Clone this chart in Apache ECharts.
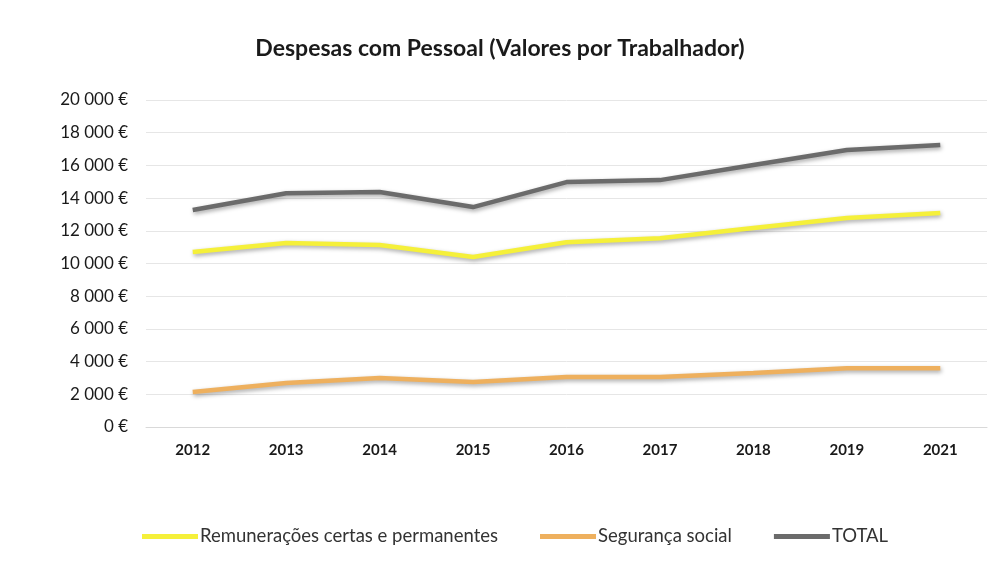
<!DOCTYPE html>
<html>
<head>
<meta charset="utf-8">
<script src="https://cdn.jsdelivr.net/npm/echarts@6/dist/echarts.min.js"></script>
<style>
    html, body { margin: 0; padding: 0; background: #fff; }
    #chart { width: 1000px; height: 567px; }
</style>
</head>
<body>
<div id="chart"></div>
<script>
    // anos
    const years = ['2012', '2013', '2014', '2015', '2016', '2017', '2018', '2019', '2021'];
    const remuneracoes = [10700, 11250, 11130, 10400, 11300, 11550, 12170, 12780, 13090];
    const segurancaSocial = [2140, 2690, 3000, 2750, 3060, 3060, 3300, 3600, 3600];
    const total = [13270, 14300, 14370, 13450, 14980, 15100, 16020, 16940, 17250];

    const fontFamily = 'Lato, "Open Sans", sans-serif';

    function euro(v) {
        return String(v).replace(/\B(?=(\d{3})+(?!\d))/g, ' ') + ' €';
    }

    function serie(name, data, color) {
        return {
            name: name,
            type: 'line',
            data: data,
            symbol: 'none',
            lineStyle: {
                width: 4.5,
                color: color,
                shadowColor: 'rgba(0,0,0,0.35)',
                shadowBlur: 4,
                shadowOffsetX: 1,
                shadowOffsetY: 2
            },
            itemStyle: { color: color }
        };
    }

    let myChart = echarts.init(document.getElementById('chart'));
    let option = {
        backgroundColor: '#fff',
        animation: false,
        title: {
            text: 'Despesas com Pessoal (Valores por Trabalhador)',
            left: 'center',
            top: 32,
            textStyle: {
                fontFamily: fontFamily,
                fontSize: 23,
                fontWeight: 'bold',
                color: '#1a1a1a'
            }
        },
        legend: {
            bottom: 16,
            left: 137,
            itemWidth: 56,
            itemHeight: 5,
            itemGap: 42,
            icon: 'rect',
            textStyle: {
                fontFamily: fontFamily,
                fontSize: 18.5,
                color: '#333',
                padding: [0, 0, 0, -3]
            },
            data: ['Remunerações certas e permanentes', 'Segurança social', 'TOTAL']
        },
        grid: {
            left: 146,
            right: 13,
            top: 100,
            bottom: 140
        },
        xAxis: {
            type: 'category',
            data: years,
            boundaryGap: true,
            axisLine: { show: true, lineStyle: { color: '#d9d9d9' } },
            axisTick: { show: false },
            axisLabel: {
                margin: 16,
                fontFamily: fontFamily,
                fontSize: 15,
                fontWeight: 'bold',
                color: '#1a1a1a'
            }
        },
        yAxis: {
            type: 'value',
            min: 0,
            max: 20000,
            interval: 2000,
            axisLine: { show: false },
            axisTick: { show: false },
            splitLine: { lineStyle: { color: '#e6e6e6' } },
            axisLabel: {
                margin: 18,
                fontFamily: fontFamily,
                fontSize: 17,
                color: '#1a1a1a',
                formatter: euro
            }
        },
        series: [
            serie('Remunerações certas e permanentes', remuneracoes, '#f5f03a'),
            serie('Segurança social', segurancaSocial, '#eeb05e'),
            serie('TOTAL', total, '#6b6b6b')
        ]
    };
    myChart.setOption(option);
</script>
</body>
</html>
